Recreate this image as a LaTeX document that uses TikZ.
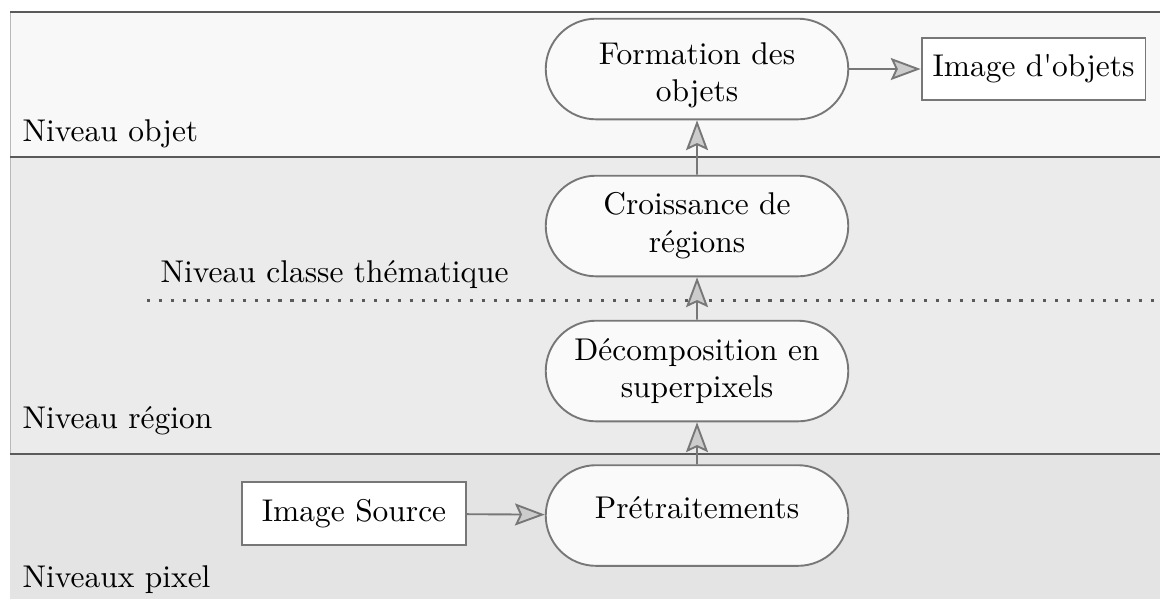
\documentclass[tikz,border=0pt]{standalone}
\usetikzlibrary{shapes.misc,arrows.meta}
\definecolor{bandobj}{HTML}{F8F8F8}
\definecolor{bandreg}{HTML}{EBEBEB}
\definecolor{bandpix}{HTML}{E4E4E4}
\definecolor{sepline}{HTML}{5A5A5A}
\definecolor{edge}{HTML}{777777}
\definecolor{pillfill}{HTML}{FAFAFA}
\definecolor{tipfill}{HTML}{CCCCCC}
\begin{document}
\begin{tikzpicture}[x=0.318pt,y=-0.318pt,
  pill/.style={rounded rectangle, draw=edge, line width=0.6pt, fill=pillfill,
    minimum width=98.2pt, minimum height=32pt, align=center, inner sep=1pt},
  box/.style={rectangle, draw=edge, line width=0.6pt, fill=white,
    minimum width=71.2pt, minimum height=19.8pt, align=center, inner sep=2pt},
  flow/.style={draw=edge, line width=0.6pt,
    -{Stealth[length=9.5pt,width=7pt,inset=1.6pt,fill=tipfill]}},
  sep/.style={draw=sepline, line width=0.55pt},
  level/.style={anchor=base west, inner sep=0pt}]
\useasboundingbox (0,0) rectangle (1160,599);

% level bands
\fill[bandobj] (10,12) rectangle (1160,157);
\fill[bandreg] (10,157) rectangle (1160,454);
\fill[bandpix] (10,454) rectangle (1160,599);
\draw[gray!55, line width=0.3pt] (10,12) -- (10,454);
\draw[sep] (10,12) -- (1160,12);
\draw[sep] (10,157) -- (1160,157);
\draw[sep] (10,454) -- (1160,454);
\draw[sepline, line width=0.75pt, dash pattern=on 1pt off 2.8pt] (147,300.5) -- (1160,300.5);

% level names
\node[level] (lobj) at (22,141) {Niveau objet};
\node[level] (lthm) at (160,282) {Niveau classe thématique};
\node[level] (lreg) at (22,428) {Niveau région};
\node[level] (lpix) at (22,587) {Niveaux pixel};

% processing steps
\node[pill, text height=22.9pt, text depth=1.94pt] (form) at (697,69) {Formation des\\objets};
\node[pill] (croi) at (697,226) {Croissance de\\régions};
\node[pill] (deco) at (697,371) {Décomposition en\\superpixels};
\node[pill, text height=3.5pt, text depth=1.9pt] (pret) at (697,515.5) {Prétraitements};
\node[box] (img) at (1033.5,69) {Image d\textquotesingle objets};
\node[box] (src) at (354,513.5) {Image Source};

% flow
\draw[flow] (src) -- (pret);
\draw[flow] (pret) -- (deco);
\draw[flow] (deco) -- (croi);
\draw[flow] (croi) -- (form);
\draw[flow] (form) -- (img);
\end{tikzpicture}
\end{document}
